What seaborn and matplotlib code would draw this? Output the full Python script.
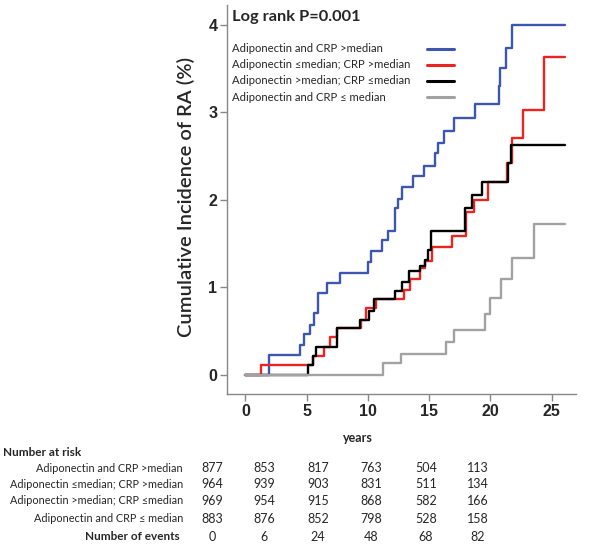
import numpy as np
import pandas as pd
import matplotlib.pyplot as plt
import seaborn as sns
from matplotlib.lines import Line2D

# groups and colours
groups = ["Adiponectin and CRP >median",
          "Adiponectin \u2264median; CRP >median",
          "Adiponectin >median; CRP \u2264median",
          "Adiponectin and CRP \u2264 median"]
colors = ["#3d57b0", "#ec2421", "#000000", "#a2a2a2"]

# cumulative incidence steps (years, %)
blue_t = [0, 1.9, 4.5, 4.8, 5.3, 5.6, 5.9, 6.7, 7.7, 10.0, 10.3, 11.15, 11.65, 12.2, 12.45,
          12.8, 13.7, 14.6, 15.45, 15.7, 16.2, 17.0, 18.75, 20.7, 20.8, 21.3, 21.8, 26.1]
blue_y = [0, 0.23, 0.34, 0.47, 0.57, 0.70, 0.93, 1.05, 1.16, 1.29, 1.41, 1.54, 1.64, 1.90, 2.01,
          2.15, 2.27, 2.39, 2.53, 2.65, 2.78, 2.93, 3.09, 3.30, 3.50, 3.73, 4.0, 4.0]
red_t = [0, 1.3, 5.5, 6.4, 6.9, 7.5, 9.45, 9.85, 10.65, 12.95, 13.45, 14.3, 14.65, 15.2,
         16.9, 18.05, 18.7, 19.8, 21.35, 21.8, 22.7, 24.35, 26.1]
red_y = [0, 0.11, 0.21, 0.32, 0.43, 0.53, 0.63, 0.76, 0.86, 0.97, 1.09, 1.22, 1.30, 1.46,
         1.58, 1.86, 2.0, 2.2, 2.42, 2.70, 3.03, 3.63, 3.63]
black_t = [0, 5.1, 5.5, 5.8, 7.5, 9.4, 10.1, 10.5, 12.25, 12.8, 13.4, 14.3, 14.65, 14.95,
           15.15, 17.9, 18.5, 19.3, 21.45, 21.7, 26.1]
black_y = [0, 0.11, 0.21, 0.32, 0.53, 0.63, 0.73, 0.86, 0.96, 1.06, 1.18, 1.24, 1.31, 1.43,
           1.64, 1.90, 2.05, 2.20, 2.42, 2.62, 2.62]
gray_t = [0, 11.2, 12.7, 16.35, 17.0, 19.6, 19.95, 20.9, 21.8, 23.6, 26.1]
gray_y = [0, 0.13, 0.24, 0.37, 0.51, 0.69, 0.88, 1.09, 1.33, 1.72, 1.72]

# number at risk table
risk_rows = [[877, 853, 817, 763, 504, 113],
             [964, 939, 903, 831, 511, 134],
             [969, 954, 915, 868, 582, 166],
             [883, 876, 852, 798, 528, 158]]
events = [0, 6, 24, 48, 68, 82]

curves = [(blue_t, blue_y), (red_t, red_y), (black_t, black_y), (gray_t, gray_y)]
df = pd.concat([pd.DataFrame({"years": t, "cum": y, "group": g})
                for g, (t, y) in zip(groups, curves)], ignore_index=True)

sns.set_style("white")
plt.rcParams["font.family"] = ["Lato", "DejaVu Sans"]

W, H = 600, 547
fig = plt.figure(figsize=(6, 5.47), dpi=100)


def fx(x):
    return x / W


def fy(y):
    return 1 - y / H


ax = fig.add_axes([fx(227), fy(394), fx(576) - fx(227), fy(4.6) - fy(394)])
sns.lineplot(data=df, x="years", y="cum", hue="group", palette=colors, hue_order=groups,
             drawstyle="steps-post", estimator=None, sort=False, legend=False, lw=1.7, ax=ax)
ax.set_xlim(-1.5, 27.0)
ax.set_ylim(-0.22, 4.23)
ax.set_xticks([0, 5, 10, 15, 20, 25])
ax.set_yticks([0, 1, 2, 3, 4])
ax.set_xlabel("")
ax.set_ylabel("")
for s in ["top", "right"]:
    ax.spines[s].set_visible(False)
for s in ["left", "bottom"]:
    ax.spines[s].set_color("#888888")
    ax.spines[s].set_linewidth(1.0)
ax.tick_params(axis="both", direction="out", length=5, width=1, color="#888888", pad=2,
               left=True, bottom=True)
for lab in ax.get_xticklabels() + ax.get_yticklabels():
    lab.set_fontfamily("Liberation Sans")
    lab.set_fontweight("bold")
    lab.set_fontsize(11.5)

# y label and title text
fig.text(fx(186), fy(197), "Cumulative Incidence of RA (%)", rotation=90,
         ha="center", va="center", fontsize=14.5, fontweight="semibold")
fig.text(fx(232), fy(17), "Log rank P=0.001", ha="left", va="center",
         fontsize=11.8, fontweight="bold")

# legend: text left, line samples on the right
leg_y = [49, 65, 81, 97]
for g, c, yy in zip(groups, colors, leg_y):
    fig.text(fx(232), fy(yy), g, ha="left", va="center", fontsize=8.1)
    fig.add_artist(Line2D([fx(427), fx(454)], [fy(yy), fy(yy)], color=c, lw=2.2,
                          transform=fig.transFigure))

# table below
fig.text(fx(358), fy(438), "years", ha="center", va="center", fontsize=9, fontweight="bold")
fig.text(fx(3), fy(452), "Number at risk", ha="left", va="center", fontsize=8.5,
         fontweight="bold")
col_x = [212, 264, 318, 371, 426, 478]
row_y = [468, 484, 501, 519]
for g, vals, yy in zip(groups, risk_rows, row_y):
    fig.text(fx(183), fy(yy), g, ha="right", va="center", fontsize=7.8)
    for cx, v in zip(col_x, vals):
        fig.text(fx(cx), fy(yy), str(v), ha="center", va="center", fontsize=9)
fig.text(fx(180), fy(537), "Number of events", ha="right", va="center", fontsize=8.5,
         fontweight="bold")
for cx, v in zip(col_x, events):
    fig.text(fx(cx), fy(537), str(v), ha="center", va="center", fontsize=9)

fig.savefig("out.png", dpi=100)
